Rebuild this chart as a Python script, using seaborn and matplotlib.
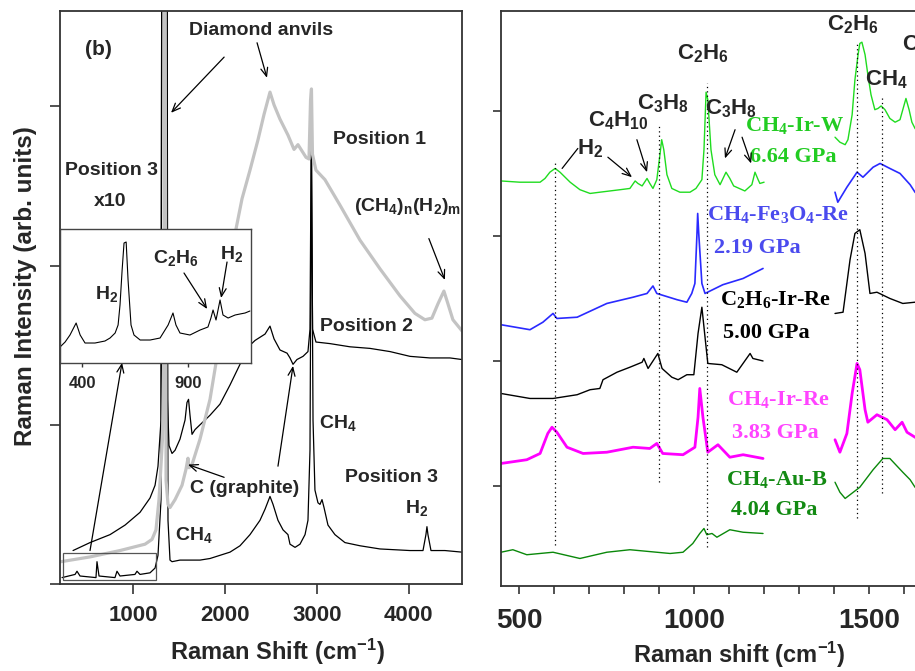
import matplotlib
matplotlib.use("Agg")
import matplotlib.pyplot as plt
import seaborn as sns
from matplotlib.patches import Rectangle
from matplotlib.ticker import MultipleLocator

sns.set_style("ticks")
plt.rcParams["font.family"] = ["Liberation Sans", "DejaVu Sans"]
plt.rcParams["font.weight"] = "bold"
plt.rcParams["mathtext.fontset"] = "custom"
plt.rcParams["mathtext.rm"] = "Liberation Sans:bold"
plt.rcParams["mathtext.it"] = "Liberation Sans:bold"
plt.rcParams["mathtext.bf"] = "Liberation Serif:bold"

# ---------------- left panel (b): full range spectra ----------------
pos1_x = [212, 528, 855, 1128, 1204, 1247, 1280, 1318, 1334, 1338, 1346, 1357, 1378, 1400, 1455,
          1531, 1574, 1596, 1607, 1640, 1727, 1836, 1945, 2032, 2109, 2185, 2272, 2359, 2425,
          2490, 2534, 2599, 2686, 2752, 2795, 2839, 2883, 2915, 2932, 2942, 2953, 2991, 3089,
          3253, 3471, 3689, 3907, 4070, 4179, 4255, 4321, 4386, 4430, 4484, 4583]
pos1_y = [0.14, 0.17, 0.21, 0.25, 0.28, 0.34, 0.53, 0.91, 1.50, 3.99, 3.99, 0.65, 0.50, 0.48, 0.53,
          0.62, 0.72, 0.79, 0.73, 0.75, 0.91, 1.16, 1.54, 1.91, 2.20, 2.42, 2.60, 2.79, 2.95,
          3.09, 3.01, 2.92, 2.82, 2.73, 2.76, 2.72, 2.68, 2.67, 3.04, 3.11, 2.70, 2.60, 2.54,
          2.38, 2.16, 1.98, 1.81, 1.70, 1.66, 1.67, 1.76, 1.84, 1.76, 1.66, 1.59]

pos2_x = [343, 528, 746, 910, 1073, 1182, 1237, 1269, 1302, 1310, 1368, 1372, 1389, 1422,
          1455, 1509, 1564, 1585, 1602, 1618, 1640, 1673, 1727, 1836, 1945, 2054, 2163, 2272,
          2327, 2436, 2490, 2534, 2599, 2676, 2708, 2741, 2784, 2850, 2904, 2926, 2940, 2954,
          2991, 3144, 3362, 3580, 3798, 4016, 4234, 4452, 4583]
pos2_y = [0.21, 0.26, 0.31, 0.37, 0.45, 0.54, 0.62, 0.74, 1.03, 3.99, 3.99, 1.16, 0.87, 0.82,
          0.84, 0.91, 1.03, 1.14, 1.16, 1.06, 0.94, 0.97, 1.00, 1.06, 1.13, 1.25, 1.38, 1.50,
          1.53, 1.57, 1.62, 1.54, 1.47, 1.45, 1.42, 1.38, 1.41, 1.43, 1.46, 1.60, 2.86, 1.60,
          1.52, 1.51, 1.49, 1.48, 1.46, 1.43, 1.42, 1.42, 1.41]

pos3_x = [223, 365, 386, 419, 593, 604, 626, 800, 822, 855, 1018, 1040, 1073, 1182, 1237,
          1269, 1302, 1310, 1368, 1378, 1400, 1422, 1509, 1618, 1727, 1836, 1945, 2054, 2163,
          2272, 2381, 2436, 2490, 2523, 2577, 2632, 2686, 2708, 2763, 2817, 2872, 2904, 2926,
          2942, 2959, 2980, 3013, 3035, 3057, 3079, 3122, 3198, 3307, 3471, 3689, 4016, 4158,
          4190, 4201, 4212, 4245, 4397, 4583]
pos3_y = [0.04, 0.06, 0.08, 0.05, 0.04, 0.14, 0.05, 0.04, 0.08, 0.05, 0.06, 0.08, 0.06, 0.07,
          0.10, 0.18, 0.53, 3.99, 3.99, 0.40, 0.15, 0.14, 0.15, 0.15, 0.15, 0.16, 0.18, 0.20,
          0.24, 0.31, 0.40, 0.47, 0.55, 0.50, 0.40, 0.34, 0.31, 0.25, 0.23, 0.25, 0.31, 0.40,
          0.84, 2.79, 1.03, 0.59, 0.51, 0.50, 0.53, 0.48, 0.37, 0.31, 0.26, 0.24, 0.22, 0.21,
          0.21, 0.31, 0.36, 0.31, 0.21, 0.21, 0.20]

# position 3, x10 zoom of the low-frequency part
inset_x = [296, 320, 343, 372, 391, 414, 461, 508, 532, 556, 570, 579, 589, 598, 608, 617,
           631, 645, 674, 721, 768, 806, 829, 843, 862, 909, 957, 994, 1008, 1018, 1032, 1051,
           1065, 1089, 1122, 1145, 1169, 1192]
inset_y = [0.16, 0.21, 0.28, 0.40, 0.28, 0.20, 0.20, 0.22, 0.25, 0.30, 0.38, 0.58, 0.93, 1.20,
           1.21, 0.83, 0.38, 0.28, 0.23, 0.23, 0.25, 0.38, 0.50, 0.38, 0.30, 0.28, 0.33, 0.36,
           0.45, 0.53, 0.43, 0.63, 0.48, 0.45, 0.48, 0.49, 0.50, 0.52]

# ---------------- right panel: samples, two windows ----------------
lime1_x = [447, 501, 559, 573, 587, 602, 616, 645, 673, 702, 730, 759, 788, 816, 831, 839,
           851, 865, 873, 882, 893, 902, 907, 913, 922, 936, 959, 988, 1005, 1022, 1028, 1034,
           1039, 1048, 1059, 1074, 1091, 1102, 1113, 1145, 1165, 1174, 1183, 1188, 1200]
lime1_y = [3.44, 3.43, 3.43, 3.46, 3.51, 3.54, 3.51, 3.43, 3.37, 3.34, 3.35, 3.36, 3.37, 3.38,
           3.44, 3.42, 3.40, 3.46, 3.42, 3.38, 3.45, 3.65, 3.77, 3.69, 3.49, 3.38, 3.35, 3.35,
           3.38, 3.45, 3.69, 4.15, 4.09, 3.69, 3.49, 3.41, 3.51, 3.46, 3.40, 3.36, 3.41, 3.51,
           3.45, 3.42, 3.43]
lime2_x = [1403, 1417, 1432, 1440, 1452, 1460, 1469, 1474, 1480, 1489, 1497, 1506, 1517, 1526,
           1535, 1546, 1560, 1575, 1589, 1597, 1606, 1615, 1623, 1632, 1650]
lime2_y = [3.79, 3.75, 3.73, 3.77, 3.97, 4.25, 4.45, 4.54, 4.55, 4.45, 4.29, 4.13, 4.01, 4.02,
           4.04, 4.01, 3.94, 3.91, 3.93, 4.01, 4.10, 4.01, 3.91, 3.86, 3.80]

blue1_x = [447, 530, 567, 596, 607, 665, 750, 825, 865, 882, 893, 951, 979, 993, 1002, 1008,
           1010, 1013, 1022, 1031, 1082, 1140, 1197]
blue1_y = [2.29, 2.25, 2.31, 2.38, 2.34, 2.35, 2.46, 2.51, 2.54, 2.60, 2.54, 2.49, 2.47, 2.54,
           2.62, 3.02, 3.18, 3.02, 2.62, 2.54, 2.61, 2.66, 2.74]
blue2_x = [1403, 1411, 1437, 1466, 1483, 1512, 1532, 1560, 1589, 1618, 1632, 1650]
blue2_y = [3.35, 3.27, 3.39, 3.51, 3.47, 3.55, 3.58, 3.54, 3.50, 3.41, 3.35, 3.30]

black1_x = [447, 530, 596, 665, 702, 730, 739, 779, 816, 851, 856, 868, 896, 908, 936, 954,
            979, 999, 1011, 1022, 1031, 1039, 1079, 1122, 1160, 1168, 1197]
black1_y = [1.74, 1.70, 1.70, 1.73, 1.77, 1.78, 1.85, 1.91, 1.95, 1.99, 2.02, 1.94, 2.06, 1.94,
            1.87, 1.85, 1.89, 1.89, 2.22, 2.43, 2.19, 1.98, 1.97, 1.91, 2.06, 2.02, 2.00]
black2_x = [1403, 1426, 1446, 1460, 1474, 1489, 1503, 1523, 1560, 1597, 1632, 1650]
black2_y = [2.38, 2.39, 2.81, 3.02, 3.05, 2.86, 2.54, 2.55, 2.50, 2.46, 2.47, 2.45]

mag1_x = [447, 521, 559, 581, 593, 607, 636, 682, 750, 825, 873, 893, 910, 968, 1002, 1011,
          1016, 1025, 1039, 1068, 1102, 1140, 1197]
mag1_y = [1.18, 1.21, 1.26, 1.42, 1.47, 1.43, 1.31, 1.26, 1.27, 1.31, 1.30, 1.34, 1.26, 1.25,
          1.31, 1.55, 1.78, 1.55, 1.27, 1.33, 1.23, 1.25, 1.22]
mag2_x = [1403, 1417, 1437, 1452, 1466, 1474, 1489, 1497, 1523, 1552, 1575, 1595, 1609, 1632, 1650]
mag2_y = [1.37, 1.27, 1.42, 1.74, 1.98, 1.93, 1.61, 1.51, 1.57, 1.53, 1.45, 1.51, 1.43, 1.39, 1.36]

dg1_x = [447, 481, 521, 596, 673, 750, 816, 931, 968, 996, 1016, 1028, 1036, 1051, 1065, 1102,
         1140, 1197]
dg1_y = [0.47, 0.49, 0.45, 0.47, 0.42, 0.47, 0.49, 0.46, 0.47, 0.54, 0.62, 0.66, 0.61, 0.62,
         0.59, 0.65, 0.63, 0.62]
dg2_x = [1403, 1417, 1432, 1446, 1474, 1512, 1540, 1560, 1597, 1618, 1632, 1650]
dg2_y = [1.03, 0.95, 0.90, 0.93, 0.99, 1.13, 1.22, 1.22, 1.11, 1.05, 0.99, 0.95]

guide_x = [601, 899, 1036, 1466, 1537]
guide_top = [3.61, 3.88, 4.22, 4.54, 4.13]
guide_bottom = [0.53, 1.03, 0.51, 0.74, 0.94]

samples = [
    ("CH$_\\mathbf{4}$-Ir-W", "6.64 GPa", "#1fdc1f", "#22cc22", 1.0, lime1_x, lime1_y, lime2_x, lime2_y),
    ("CH$_\\mathbf{4}$-Fe$_\\mathbf{3}$O$_\\mathbf{4}$-Re", "2.19 GPa", "#2a2aff", "#4a4aee", 1.2,
     blue1_x, blue1_y, blue2_x, blue2_y),
    ("C$_\\mathbf{2}$H$_\\mathbf{6}$-Ir-Re", "5.00 GPa", "black", "black", 1.0,
     black1_x, black1_y, black2_x, black2_y),
    ("CH$_\\mathbf{4}$-Ir-Re", "3.83 GPa", "#ff00ff", "#ff44ff", 2.0, mag1_x, mag1_y, mag2_x, mag2_y),
    ("CH$_\\mathbf{4}$-Au-B", "4.04 GPa", "#0a880a", "#138a13", 1.0, dg1_x, dg1_y, dg2_x, dg2_y),
]
sample_pos = [(1286, 3.88, 1283, 3.63), (1240, 3.17, 1180, 2.90), (1234, 2.49, 1205, 2.22),
              (1240, 1.69, 1231, 1.42), (1237, 1.05, 1228, 0.81)]

fig = plt.figure(figsize=(9.15, 6.71), dpi=100)
axL = fig.add_axes([0.0656, 0.1297, 0.4393, 0.854])
axR = fig.add_axes([0.5475, 0.1267, 0.4785, 0.857])
axI = fig.add_axes([0.0656, 0.459, 0.2087, 0.1997])

spine_c = "#333333"
sans = dict(fontweight="bold", family=["Liberation Sans", "DejaVu Sans"])
serif = dict(fontweight="bold", family=["Liberation Serif", "DejaVu Serif"])
arrow = dict(arrowstyle="->,head_length=0.6,head_width=0.25", lw=0.9, color="black",
             shrinkA=0, shrinkB=0)

# left panel curves
sns.lineplot(x=pos3_x, y=pos3_y, ax=axL, color="black", linewidth=0.9, sort=False, estimator=None)
sns.lineplot(x=pos2_x, y=pos2_y, ax=axL, color="black", linewidth=0.9, sort=False, estimator=None)
sns.lineplot(x=pos1_x, y=pos1_y, ax=axL, color="#c3c3c3", linewidth=2.3, sort=False, estimator=None)
axL.add_patch(Rectangle((234, 0.025), 1014, 0.17, fill=False, edgecolor="#555555", lw=0.9, zorder=3))

axL.set_xlim(201, 4583)
axL.set_ylim(0, 3.6)
axL.set_xticks([1000, 2000, 3000, 4000])
axL.set_yticks([0, 1, 2, 3])
axL.set_yticklabels([])
axL.tick_params(axis="both", direction="out", length=7, width=1.2, color=spine_c)
axL.tick_params(axis="x", labelsize=16, pad=8)
for lab in axL.get_xticklabels():
    lab.set_fontweight("bold")
for sp in axL.spines.values():
    sp.set_color(spine_c)
    sp.set_linewidth(1.3)
axL.set_xlabel("Raman Shift (cm$^{\\mathrm{-1}}$)", fontsize=17, **sans)
axL.xaxis.set_label_coords(0.54, -0.092)
axL.set_ylabel("Raman Intensity (arb. units)", fontsize=17.5, **sans)
axL.yaxis.set_label_coords(-0.058, 0.52)

left_labels = [
    ("(b)", 615, 3.36, 15), ("Diamond anvils", 2392, 3.48, 14), ("Position 1", 3689, 2.79, 14),
    ("Position 3", 757, 2.60, 14), ("x10", 746, 2.40, 14),
    ("(CH$_\\mathrm{4}$)$_\\mathrm{n}$(H$_\\mathrm{2}$)$_\\mathrm{m}$", 3994, 2.37, 14),
    ("Position 2", 3536, 1.62, 14), ("CH$_\\mathrm{4}$", 3231, 1.01, 14),
    ("C (graphite)", 2218, 0.60, 14), ("Position 3", 3820, 0.67, 14),
    ("H$_\\mathrm{2}$", 4092, 0.48, 14), ("CH$_\\mathrm{4}$", 1662, 0.31, 14),
]
for s, x, y, fs in left_labels:
    axL.text(x, y, s, ha="center", va="center", fontsize=fs, zorder=5, **sans)

left_arrows = [((1990, 3.31), (1411, 2.96)), ((2349, 3.40), (2457, 3.18)),
               ((4222, 2.17), (4397, 1.91)), ((1990, 0.67), (1596, 0.75)),
               ((2577, 0.74), (2741, 1.37)), ((528, 0.21), (877, 1.39))]
for start, end in left_arrows:
    axL.annotate("", xy=end, xytext=start, arrowprops=arrow, zorder=4)

# inset
sns.lineplot(x=inset_x, y=inset_y, ax=axI, color="black", linewidth=0.8, sort=False, estimator=None)
axI.set_xlim(296, 1197)
axI.set_ylim(0, 1.34)
axI.set_xticks([400, 900])
axI.set_yticks([])
axI.tick_params(axis="x", direction="out", length=3, width=1, color=spine_c, labelsize=12, pad=6)
for lab in axI.get_xticklabels():
    lab.set_fontweight("bold")
for sp in axI.spines.values():
    sp.set_color("#444444")
    sp.set_linewidth(1.0)
axI.set_xlabel("")
axI.set_ylabel("")
inset_labels = [("H$_\\mathrm{2}$", 518, 0.69), ("C$_\\mathrm{2}$H$_\\mathrm{6}$", 843, 1.05),
                ("H$_\\mathrm{2}$", 1108, 1.09)]
for s, x, y in inset_labels:
    axI.text(x, y, s, ha="center", va="center", fontsize=14, **sans)
for start, end in [((881, 0.90), (990, 0.54)), ((1084, 1.01), (1056, 0.65))]:
    axI.annotate("", xy=end, xytext=start, arrowprops=arrow)

# right panel curves
for (name, gpa, lc, tc, lw, x1, y1, x2, y2), (nx, ny, gx, gy) in zip(samples, sample_pos):
    sns.lineplot(x=x1, y=y1, ax=axR, color=lc, linewidth=lw, sort=False, estimator=None)
    sns.lineplot(x=x2, y=y2, ax=axR, color=lc, linewidth=lw, sort=False, estimator=None)
    axR.text(nx, ny, name, ha="center", va="center", fontsize=16, color=tc, **serif)
    axR.text(gx, gy, gpa, ha="center", va="center", fontsize=16, color=tc, **serif)

axR.vlines(guide_x, guide_bottom, guide_top, colors="black", linestyles=(0, (1, 2.5)), lw=0.9)

right_labels = [("H$_\\mathrm{2}$", 702, 3.70, "center"), ("C$_\\mathrm{4}$H$_\\mathrm{10}$", 782, 3.92, "center"),
                ("C$_\\mathrm{3}$H$_\\mathrm{8}$", 911, 4.06, "center"),
                ("C$_\\mathrm{2}$H$_\\mathrm{6}$", 1025, 4.46, "center"),
                ("C$_\\mathrm{3}$H$_\\mathrm{8}$", 1105, 4.02, "center"),
                ("C$_\\mathrm{2}$H$_\\mathrm{6}$", 1454, 4.69, "center"),
                ("CH$_\\mathrm{4}$", 1549, 4.25, "center"),
                ("C$_\\mathrm{2}$H$_\\mathrm{4}$", 1595, 4.53, "left")]
for s, x, y, ha in right_labels:
    axR.text(x, y, s, ha=ha, va="center", fontsize=16, **sans)

axR.plot([667, 622], [3.70, 3.54], color="black", lw=0.9)
right_arrows = [((753, 3.63), (822, 3.47)), ((836, 3.77), (865, 3.51)),
                ((1117, 3.85), (1088, 3.62)), ((1137, 3.79), (1163, 3.58))]
for start, end in right_arrows:
    axR.annotate("", xy=end, xytext=start, arrowprops=arrow)

axR.set_xlim(447, 1700)
axR.set_ylim(0.2, 4.8)
axR.set_xticks([500, 1000, 1500])
axR.xaxis.set_minor_locator(MultipleLocator(100))
axR.set_yticks([1, 2, 3, 4])
axR.set_yticklabels([])
axR.tick_params(axis="both", which="both", direction="out", length=6, width=1.2, color=spine_c)
axR.tick_params(axis="x", labelsize=20, pad=10)
for lab in axR.get_xticklabels():
    lab.set_fontweight("bold")
for sp in axR.spines.values():
    sp.set_color(spine_c)
    sp.set_linewidth(1.3)
axR.set_xlabel("Raman shift (cm$^{\\mathrm{-1}}$)", fontsize=17, **sans)
axR.xaxis.set_label_coords(0.544, -0.094)
axR.set_ylabel("")

fig.savefig("out.png", dpi=100)
